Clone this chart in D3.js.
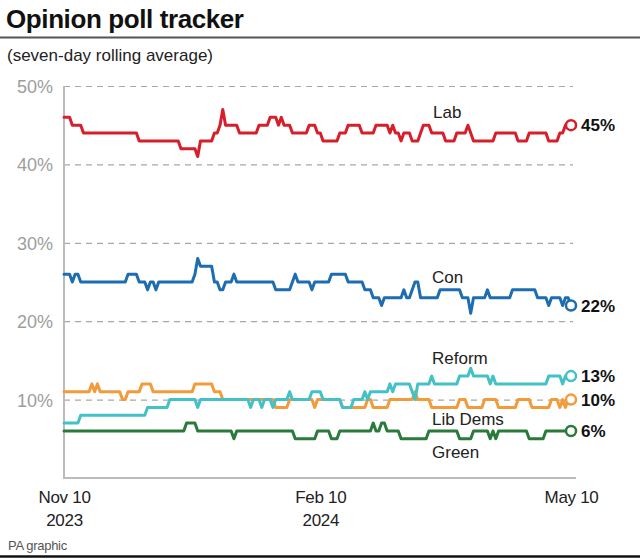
<!DOCTYPE html>
<html><head><meta charset="utf-8">
<script src="https://cdn.jsdelivr.net/npm/d3@7"></script>
<style>
body{margin:0;background:#fff;}
svg{display:block;font-family:"Liberation Sans",Arial,sans-serif;}
</style></head><body>
<svg id="chart" width="640" height="559"></svg>
<script>
// ---- data (daily seven-day rolling averages, %) ----
const startDate = "2023-11-10";
const lab = [46,46,46,45,45,45,45,
44,44,44,44,44,44,44,44,44,44,44,44,44,44,44,44,44,44,44,44,
43,43,43,43,43,43,43,43,43,43,43,43,43,43,43,
42,42,42,42,42,42,41,43,43,43,43,43,44,44,45,47,
45,45,45,45,45,44,44,44,44,44,44,44,45,45,45,45,46,46,46,45,46,45,45,45,
44,44,44,44,44,44,45,45,45,44,44,43,43,43,43,43,43,44,44,44,
45,45,45,45,45,44,44,44,44,44,45,45,45,45,45,44,45,44,44,43,44,44,44,43,43,43,
44,45,45,45,44,44,44,44,44,43,43,43,43,44,44,44,44,45,44,
43,43,43,43,43,43,43,43,44,44,44,44,44,44,44,44,43,43,43,43,
44,44,44,44,44,44,44,43,43,43,43,44,44,45,45,45];
const con = [26,26,26,25,26,26,
25,25,25,25,25,25,25,25,25,25,25,25,25,25,25,25,25,
26,26,26,26,25,25,25,24,25,25,24,
25,25,25,25,25,25,25,25,25,25,25,25,25,26,28,27,27,27,27,27,25,25,24,24,25,25,25,26,
25,25,25,25,25,25,25,25,25,25,25,25,25,25,24,24,24,24,24,24,25,26,25,25,25,25,25,24,
25,25,25,25,25,25,26,26,26,26,26,26,25,25,25,25,25,25,24,24,24,23,23,23,22,
23,23,23,23,23,23,23,24,23,23,24,25,25,23,23,23,23,23,23,23,
24,24,24,24,24,24,24,24,23,23,23,21,23,23,23,23,23,24,
23,23,23,23,23,23,23,23,24,24,24,24,24,24,24,24,24,23,23,23,23,22,23,23,23,23,22,23,23,22];
const reform = [7,7,7,7,7,7,
8,8,8,8,8,8,8,8,8,8,8,8,8,8,8,8,8,8,8,8,8,8,8,8,
9,9,9,9,9,9,9,9,10,10,10,10,10,10,10,10,10,10,9,
10,10,10,10,10,10,10,10,10,10,10,10,10,10,10,10,10,10,9,10,10,10,9,10,10,10,9,10,10,10,10,10,
11,10,10,10,10,10,10,10,11,11,11,11,10,10,10,10,10,10,10,9,9,9,9,10,10,10,10,11,10,
11,11,11,11,11,11,11,12,11,12,12,12,12,12,12,11,10,12,12,12,12,12,13,
12,12,12,12,12,12,12,12,12,13,13,13,13,14,13,13,13,13,13,13,12,13,
12,12,12,12,12,12,12,12,12,12,12,12,12,12,12,12,12,12,12,13,13,13,13,13,12,13,13,13];
const libDems = [11,11,11,11,11,11,11,11,11,11,12,11,12,11,11,11,11,11,11,11,11,10,10,
11,11,11,11,11,12,12,12,12,11,11,11,11,11,11,11,11,11,11,11,11,11,11,11,
12,12,12,12,12,12,12,11,11,11,
10,10,10,10,10,10,10,10,10,10,10,10,10,10,10,10,10,10,10,9,9,9,9,9,
10,10,10,10,10,10,10,10,10,9,10,10,10,10,10,10,10,10,10,
9,9,9,9,9,9,9,9,9,10,10,9,9,9,9,9,9,10,10,10,10,10,10,10,10,10,11,
10,10,10,10,10,9,9,9,9,9,9,9,9,9,9,10,10,10,9,9,9,9,9,9,10,10,10,10,10,
9,9,9,9,9,9,9,10,10,10,10,10,9,9,9,9,9,9,9,10,10,10,9,10,9,10,10];
const green = [6,6,6,6,6,6,6,6,6,6,6,6,6,6,6,6,6,6,6,6,6,6,6,6,6,6,6,6,6,6,6,6,6,6,6,6,6,6,6,6,6,6,6,6,
7,7,7,7,6,6,6,6,6,6,6,6,6,6,6,6,6,5,
6,6,6,6,6,6,6,6,6,6,6,6,6,6,6,6,6,6,6,6,6,5,5,5,5,5,5,5,5,6,6,6,6,6,5,5,5,
6,6,6,6,6,6,6,6,6,6,6,6,7,6,6,7,7,6,6,6,6,6,5,5,5,5,5,5,5,5,5,5,
6,6,6,6,6,6,6,6,6,6,6,5,5,5,5,5,6,6,6,6,6,6,5,6,5,
6,6,6,6,6,6,6,6,6,6,6,5,5,5,5,5,5,6,6,6,6,6,6,6,6,6,6];

const seriesNames = ["Green","Lib Dems","Reform","Con","Lab"];
const seriesValues = [green, libDems, reform, con, lab];
const seriesColors = ["#2a7a3b","#f39a3b","#44c1c6","#1d6db0","#d71f2b"];
const endLabels = ["6%","10%","13%","22%","45%"];

const yTicks = [10,20,30,40,50];
const yTickLabels = ["10%","20%","30%","40%","50%"];
const xTickDates = ["2023-11-10","2024-02-10","2024-05-10"];
const xTickLabels = [["Nov 10","2023"],["Feb 10","2024"],["May 10",""]];

// ---- drawing ----
const svg = d3.select("#chart");
const parse = d3.timeParse("%Y-%m-%d");
const t0 = parse(startDate);
const dateAt = i => d3.timeDay.offset(t0, i);

const x = d3.scaleTime().domain([t0, parse("2024-05-10")]).range([64, 571]);
const y = d3.scaleLinear().domain([0, 50]).range([478, 86]);

// title
svg.append("text").attr("x", 6).attr("y", 28)
  .attr("font-size", 26).attr("font-weight", "bold").attr("fill", "#111")
  .attr("letter-spacing", "-0.4").text("Opinion poll tracker");
svg.append("line").attr("x1", 0).attr("x2", 640).attr("y1", 37.5).attr("y2", 37.5)
  .attr("stroke", "#555").attr("stroke-width", 2);
svg.append("text").attr("x", 7).attr("y", 61)
  .attr("font-size", 17).attr("fill", "#222").text("(seven-day rolling average)");

// y grid + labels
const yAxis = d3.axisLeft(y).tickValues(yTicks).tickSize(-(573 - 64))
  .tickFormat((d, i) => yTickLabels[i]);
const gy = svg.append("g").attr("transform", "translate(64,0)").call(yAxis);
gy.select(".domain").remove();
gy.selectAll(".tick line").attr("stroke", "#a8a8a8").attr("stroke-width", 1.2)
  .attr("stroke-dasharray", "6,5");
gy.selectAll(".tick text").attr("x", -11).attr("dy", "0.36em")
  .attr("font-size", 18).attr("fill", "#9d9d9d")
  .attr("font-family", "'Liberation Sans',Arial,sans-serif");

// axis frame
svg.append("line").attr("x1", 64).attr("x2", 64).attr("y1", 86).attr("y2", 479)
  .attr("stroke", "#bbb").attr("stroke-width", 2);
svg.append("line").attr("x1", 63).attr("x2", 576).attr("y1", y(0)).attr("y2", y(0))
  .attr("stroke", "#bbb").attr("stroke-width", 2);

// x labels
const xAxis = d3.axisBottom(x).tickValues(xTickDates.map(parse)).tickSize(0)
  .tickFormat(() => "");
const gx = svg.append("g").attr("transform", `translate(0,${y(0)})`).call(xAxis);
gx.select(".domain").remove();
gx.selectAll(".tick").each(function(d, i) {
  const g = d3.select(this);
  xTickLabels[i].forEach((s, j) => {
    g.append("text").attr("y", 25 + j * 23).attr("text-anchor", "middle")
      .attr("font-size", 17).attr("fill", "#222")
      .attr("font-family", "'Liberation Sans',Arial,sans-serif")
      .attr("letter-spacing", "-0.3").text(s);
  });
});

// lines
const line = d3.line().x((d, i) => x(dateAt(i))).y(d => y(d)).curve(d3.curveLinear);
seriesValues.forEach((vals, k) => {
  svg.append("path").datum(vals).attr("d", line).attr("fill", "none")
    .attr("stroke", seriesColors[k]).attr("stroke-width", 3)
    .attr("stroke-linejoin", "round").attr("stroke-linecap", "round");
});
seriesValues.forEach((vals, k) => {
  const last = vals.length - 1;
  svg.append("circle").attr("cx", x(dateAt(last))).attr("cy", y(vals[last])).attr("r", 5)
    .attr("fill", "#fff").attr("stroke", seriesColors[k]).attr("stroke-width", 2.5);
  svg.append("text").attr("x", x(dateAt(last)) + 10).attr("y", y(vals[last]) + 6)
    .attr("font-size", 17).attr("font-weight", "bold").attr("fill", "#111")
    .text(endLabels[k]);
});

// series labels
const nameLabelPos = {"Lab": [433, 118], "Con": [432, 283], "Reform": [432, 364],
  "Lib Dems": [432, 425], "Green": [432, 458]};
seriesNames.forEach(n => {
  svg.append("text").attr("x", nameLabelPos[n][0]).attr("y", nameLabelPos[n][1])
    .attr("font-size", 17).attr("fill", "#222").text(n);
});

// footer
svg.append("text").attr("x", 8).attr("y", 550).attr("font-size", 13)
  .attr("fill", "#555").attr("letter-spacing", "-0.3").text("PA graphic");
svg.append("line").attr("x1", 0).attr("x2", 640).attr("y1", 556.5).attr("y2", 556.5)
  .attr("stroke", "#111").attr("stroke-width", 2.5);
</script>
</body></html>
